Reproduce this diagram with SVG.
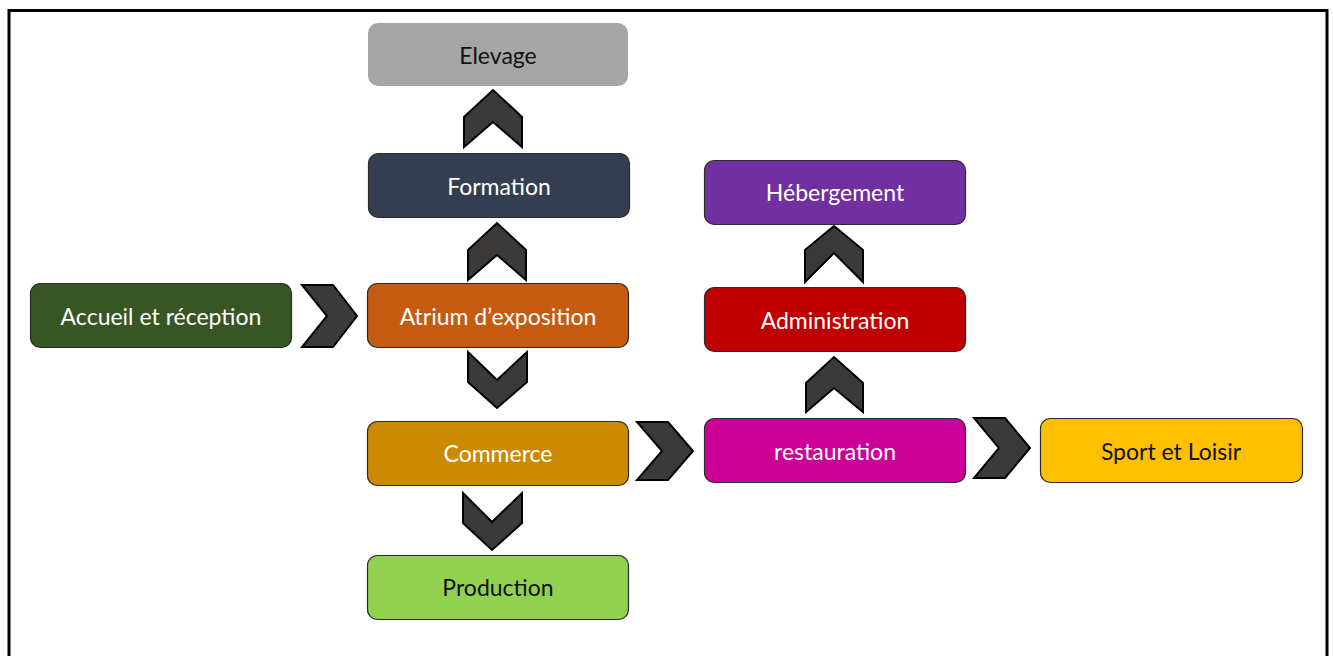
<svg xmlns="http://www.w3.org/2000/svg" width="1333" height="656" viewBox="0 0 1333 656">
<style>
.box{stroke:#2b2b2b;stroke-width:1.2}
.lbl{font-family:Lato,"Open Sans","Liberation Sans",sans-serif;font-size:23px;text-anchor:middle;dominant-baseline:central}
.w{fill:#ffffff}
.k{fill:#111111}
.chev{fill:#3b3a39;stroke:#000;stroke-width:2;stroke-linejoin:miter}
</style>
<rect x="0" y="0" width="1333" height="656" fill="#ffffff"/>
<rect x="9" y="10.5" width="1318" height="660" fill="none" stroke="#000" stroke-width="3"/>
<g id="connectors">
<polygon class="chev" points="464,117 493,90 522,117 522,147 493,122 464,147"/>
<polygon class="chev" points="468,250 497,223 526,250 526,280 497,255 468,280"/>
<polygon class="chev" points="302,285 333,285 357,316 333,347 302,347 327,316"/>
<polygon class="chev" points="468,352 497,380 527,352 527,382 497,408 468,382"/>
<polygon class="chev" points="463,493 492,522 522,493 522,523 492,550 463,523"/>
<polygon class="chev" points="637,422 668,422 693,451 668,480 637,480 662,451"/>
<polygon class="chev" points="974,418 1005,418 1030,448 1005,478 974,478 999,448"/>
<polygon class="chev" points="806,383 834,357 863,383 863,412 834,388 806,412"/>
<polygon class="chev" points="805,250 834,226 863,250 863,282 834,253 805,282"/>
</g>
<g id="elevage"><rect x="368" y="23" width="260" height="63" rx="10" fill="#a5a5a5"/><text class="lbl k" x="498" y="55">Elevage</text></g>
<g id="formation"><rect class="box" x="368.5" y="153.5" width="261" height="64" rx="10" fill="#333f50"/><text class="lbl w" x="499" y="186">Formation</text></g>
<g id="hebergement"><rect class="box" x="704.5" y="160.5" width="261" height="64" rx="10" fill="#7030a0"/><text class="lbl w" x="835" y="192">Hébergement</text></g>
<g id="accueil"><rect class="box" x="30.5" y="283.5" width="261" height="64" rx="10" fill="#375623"/><text class="lbl w" x="161" y="316">Accueil et réception</text></g>
<g id="atrium"><rect class="box" x="367.5" y="283.5" width="261" height="64" rx="10" fill="#c55a11"/><text class="lbl w" x="498" y="316">Atrium d’exposition</text></g>
<g id="administration"><rect class="box" x="704.5" y="287.5" width="261" height="64" rx="10" fill="#c00000"/><text class="lbl w" x="835" y="320">Administration</text></g>
<g id="commerce"><rect class="box" x="367.5" y="421.5" width="261" height="64" rx="10" fill="#cc8a00"/><text class="lbl w" x="498" y="453">Commerce</text></g>
<g id="restauration"><rect class="box" x="704.5" y="418.5" width="261" height="64" rx="10" fill="#cc0099"/><text class="lbl w" x="835" y="451">restauration</text></g>
<g id="sport"><rect class="box" x="1040.5" y="418.5" width="262" height="64" rx="10" fill="#ffc000"/><text class="lbl k" x="1171" y="451">Sport et Loisir</text></g>
<g id="production"><rect class="box" x="367.5" y="555.5" width="261" height="64" rx="10" fill="#92d050"/><text class="lbl k" x="498" y="587">Production</text></g>
</svg>
